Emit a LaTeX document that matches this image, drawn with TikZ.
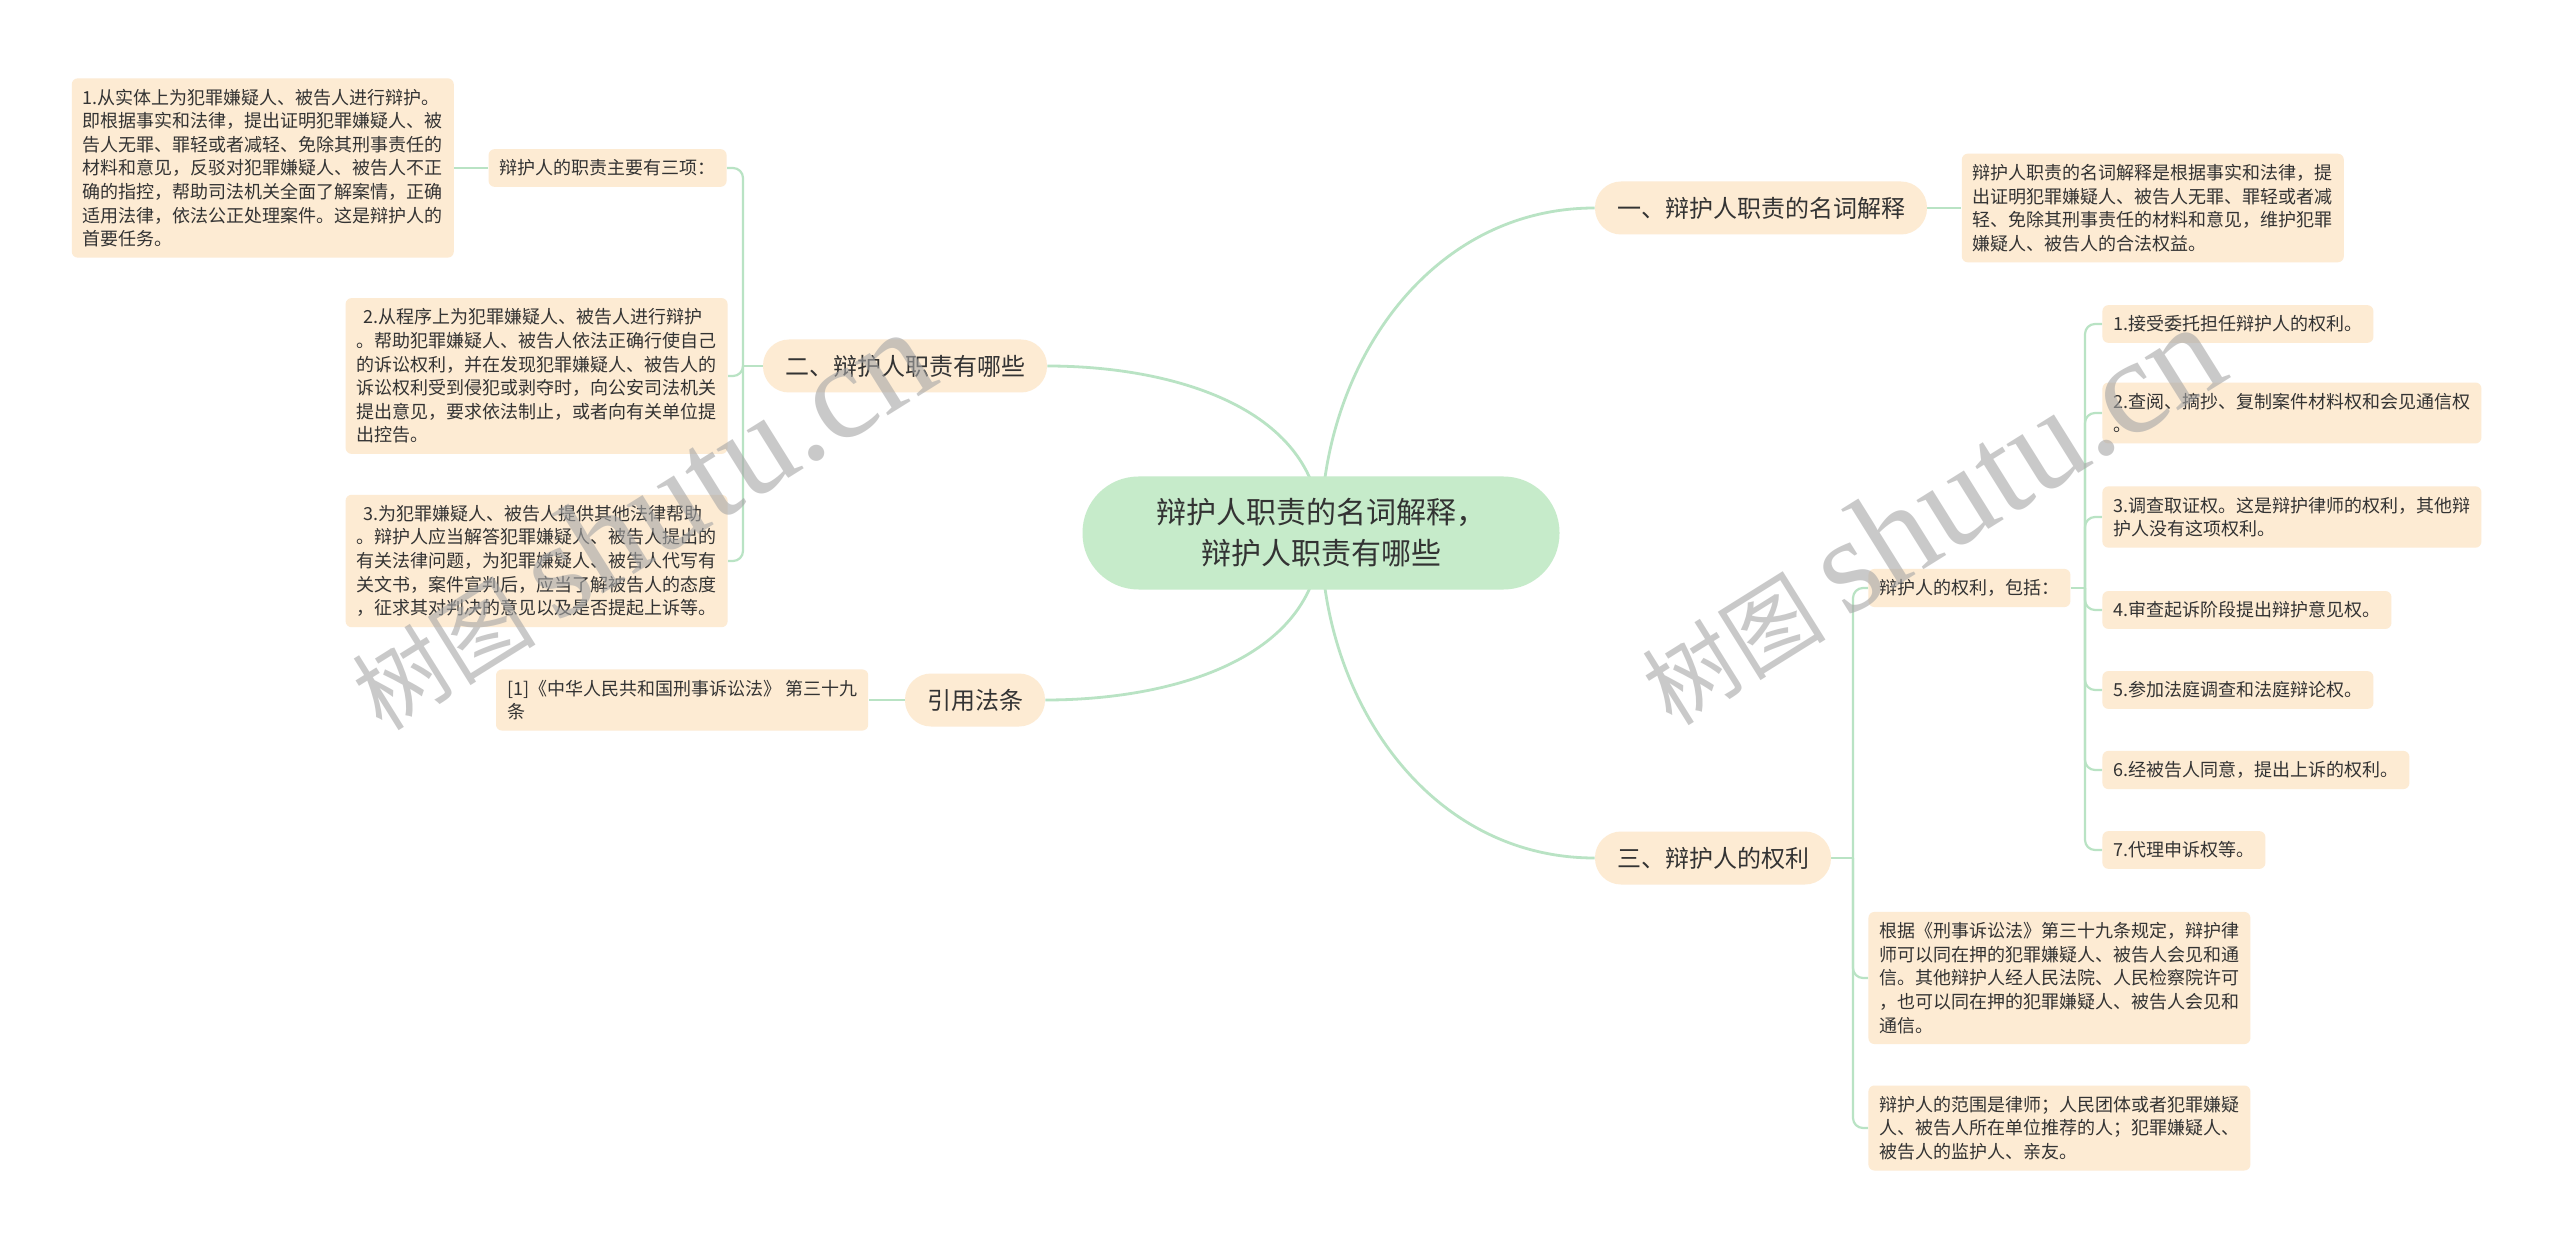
\documentclass[tikz,border=0pt]{standalone}
\usepackage{fontspec}
\setmainfont{Noto Sans CJK SC}
\newfontfamily\latinmark{Liberation Serif}
\usetikzlibrary{positioning,backgrounds}
\definecolor{Peach}{HTML}{FDEBD3}
\definecolor{Mint}{HTML}{C6EBCA}
\definecolor{LinkGreen}{HTML}{B9E3C4}
\definecolor{InkGray}{HTML}{333333}

\begin{document}
\begin{tikzpicture}[x=0.5pt,y=-0.5pt]
    \tikzset{
      root/.style={fill=Mint,rounded corners=28pt,minimum width=238.5pt,
        minimum height=56.5pt,align=center,text=InkGray,
        font=\fontsize{15pt}{20.5pt}\selectfont},
      branch/.style={fill=Peach,rounded corners=13pt,minimum height=26.5pt,
        inner xsep=11pt,text=InkGray,font=\fontsize{12pt}{14pt}\selectfont},
      leaf/.style={fill=Peach,rounded corners=3pt,inner xsep=5.5pt,inner ysep=5.25pt,
        align=left,text=InkGray,font=\fontsize{9pt}{11.8pt}\selectfont},
      link/.style={draw=LinkGreen,line width=1.4pt},
      twig/.style={draw=LinkGreen,line width=1.1pt,rounded corners=5pt},
      stamp/.style={text=gray!70,text opacity=0.6,rotate=32,inner sep=0pt}
    }
    \useasboundingbox (0,0) rectangle (2560,1251);
    % centre and main branches
    \node[root] (root) at (1321,533) {辩护人职责的名词解释，\\辩护人职责有哪些};
    \node[branch] (one) at (1761,208) {一、辩护人职责的名词解释};
    \node[branch] (two) at (905,366) {二、辩护人职责有哪些};
    \node[branch] (three) at (1713,858) {三、辩护人的权利};
    \node[branch] (cite) at (975,700) {引用法条};
    % branch one
    \node[leaf,right=17pt of one] (meaning) {辩护人职责的名词解释是根据事实和法律，提\\出证明犯罪嫌疑人、被告人无罪、罪轻或者减\\轻、免除其刑事责任的材料和意见，维护犯罪\\嫌疑人、被告人的合法权益。};
    % branch two
    \node[leaf,anchor=east] (duties) at (727,168) {辩护人的职责主要有三项：};
    \node[leaf,left=17pt of duties] (duty1) {1.从实体上为犯罪嫌疑人、被告人进行辩护。\\即根据事实和法律，提出证明犯罪嫌疑人、被\\告人无罪、罪轻或者减轻、免除其刑事责任的\\材料和意见，反驳对犯罪嫌疑人、被告人不正\\确的指控，帮助司法机关全面了解案情，正确\\适用法律，依法公正处理案件。这是辩护人的\\首要任务。};
    \node[leaf,anchor=east] (duty2) at (728,376) {\hspace*{0.4em}2.从程序上为犯罪嫌疑人、被告人进行辩护\\。帮助犯罪嫌疑人、被告人依法正确行使自己\\的诉讼权利，并在发现犯罪嫌疑人、被告人的\\诉讼权利受到侵犯或剥夺时，向公安司法机关\\提出意见，要求依法制止，或者向有关单位提\\出控告。};
    \node[leaf,anchor=east] (duty3) at (728,561) {\hspace*{0.4em}3.为犯罪嫌疑人、被告人提供其他法律帮助\\。辩护人应当解答犯罪嫌疑人、被告人提出的\\有关法律问题，为犯罪嫌疑人、被告人代写有\\关文书，案件宣判后，应当了解被告人的态度\\，征求其对判决的意见以及是否提起上诉等。};
    % citation
    \node[leaf,left=18pt of cite] (law) {[1]《中华人民共和国刑事诉讼法》 第三十九\\条};
    % branch three
    \node[leaf,anchor=west] (rights) at (1868,588) {辩护人的权利，包括：};
    \node[leaf,anchor=west] (meet) at (1868,978) {根据《刑事诉讼法》第三十九条规定，辩护律\\师可以同在押的犯罪嫌疑人、被告人会见和通\\信。其他辩护人经人民法院、人民检察院许可\\，也可以同在押的犯罪嫌疑人、被告人会见和\\通信。};
    \node[leaf,anchor=west] (scope) at (1868,1128) {辩护人的范围是律师；人民团体或者犯罪嫌疑\\人、被告人所在单位推荐的人；犯罪嫌疑人、\\被告人的监护人、亲友。};
    \foreach \n/\y/\txt in {1/324/{1.接受委托担任辩护人的权利。},
        2/413/{2.查阅、摘抄、复制案件材料权和会见通信权\\。},
        3/517/{3.调查取证权。这是辩护律师的权利，其他辩\\护人没有这项权利。},
        4/610/{4.审查起诉阶段提出辩护意见权。},
        5/690/{5.参加法庭调查和法庭辩论权。},
        6/770/{6.经被告人同意，提出上诉的权利。},
        7/850/{7.代理申诉权等。}}
      \node[leaf,anchor=west] (r\n) at (2102,\y) {\txt};
    \coordinate (fork2) at (743,366);
    \coordinate (fork3) at (1853,858);
    \coordinate (fork4) at (2085,588);
    % connectors
    \begin{scope}[on background layer]
      \fill[white] (0,0) rectangle (2560,1251);
      \draw[link] (root.center) to[out=90,in=180] (one.west);
      \draw[link] (root.center) to[out=90,in=0] (two.east);
      \draw[link] (root.center) to[out=-90,in=180] (three.west);
      \draw[link] (root.center) to[out=-90,in=0] (cite.east);
      \draw[link] (one.east) -- (meaning.west);
      \draw[link] (cite.west) -- (law.east);
      \draw[twig] (two.west) -- (fork2);
      \foreach \c in {duties,duty2,duty3}
        \draw[twig] (fork2) |- (\c.east);
      \draw[twig] (duties.west) -- (duty1.east);
      \draw[twig] (three.east) -- (fork3);
      \foreach \c in {rights,meet,scope}
        \draw[twig] (fork3) |- (\c.west);
      \draw[twig] (rights.east) -- (fork4);
      \foreach \n in {1,...,7}
        \draw[twig] (fork4) |- (r\n.west);
    \end{scope}
    % watermarks
    \node[stamp] (stampL) at (640,520) {\fontsize{46pt}{50pt}\selectfont 树图 {\latinmark\fontsize{68pt}{70pt}\selectfont shutu.cn}};
    \node[stamp] (stampR) at (1930,515) {\fontsize{46pt}{50pt}\selectfont 树图 {\latinmark\fontsize{68pt}{70pt}\selectfont shutu.cn}};
\end{tikzpicture}
\end{document}
